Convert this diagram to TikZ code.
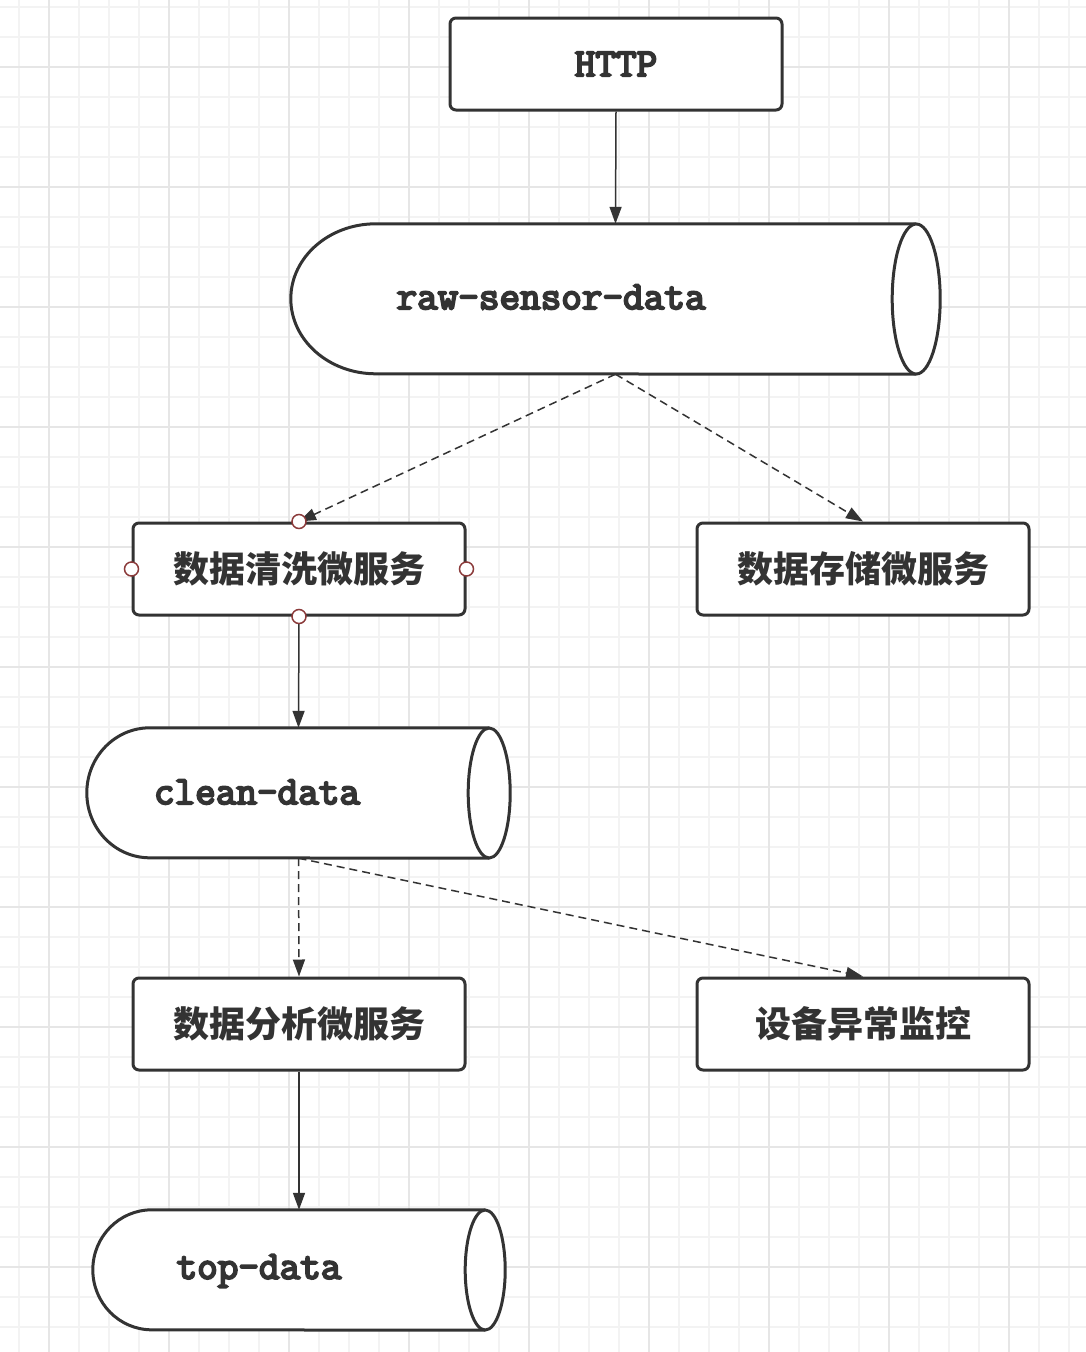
\documentclass[tikz,border=0pt]{standalone}
\usepackage{fontspec}
\newfontfamily\cjk{Noto Sans CJK SC}
\newfontfamily\codefont{Latin Modern Mono}[FakeBold=5]
\usetikzlibrary{arrows.meta}

\definecolor{ink}{HTML}{333333}
\definecolor{gridminor}{HTML}{F3F3F3}
\definecolor{gridmajor}{HTML}{E6E6E6}
\definecolor{portred}{HTML}{8B3A3A}

\tikzset{
  svc/.style={draw=ink, line width=3pt, rounded corners=6pt, fill=white,
    minimum width=332pt, minimum height=92pt, text=ink,
    font=\cjk\bfseries\fontsize{36}{40}\selectfont},
  gate/.style={svc, font=\codefont\fontsize{40}{44}\selectfont},
  tank/.style={inner sep=0pt},
  tanklabel/.style={text=ink, font=\codefont\fontsize{40}{44}\selectfont},
  flow/.style={draw=ink, line width=1.5pt, -{Triangle[length=17pt,width=12pt]}},
  maybe/.style={flow, dash pattern=on 8pt off 5pt},
  port/.style={circle, draw=portred, fill=white, line width=1.5pt,
    minimum size=14pt, inner sep=0pt},
}

% node name, left radius, ellipse half width, half height
\newcommand\tankpath[4]{%
  \draw[ink, line width=3pt, fill=white]
    ([xshift=-#3]#1.north east) -- ([xshift=#2]#1.north west)
    arc[start angle=90, end angle=270, x radius=#2, y radius=#4]
    -- ([xshift=-#3]#1.south east);
  \draw[ink, line width=3pt, fill=white]
    ([xshift=-#3]#1.east) ellipse[x radius=#3, y radius=#4];
}

\begin{document}
\begin{tikzpicture}[x=1pt, y=-1pt]
\useasboundingbox (0,0) rectangle (1086,1352);
\fill[white] (0,0) rectangle (1086,1352);

% grid
\foreach \x in {19,49,...,1079} \draw[gridminor, line width=1.5pt] (\x,0) -- (\x,1352);
\foreach \y in {7,37,...,1350} \draw[gridminor, line width=1.5pt] (0,\y) -- (1086,\y);
\foreach \x in {49,169,...,1079} \draw[gridmajor, line width=2pt] (\x,0) -- (\x,1352);
\foreach \y in {67,187,...,1350} \draw[gridmajor, line width=2pt] (0,\y) -- (1086,\y);

% topics
\node[tank, minimum width=649pt, minimum height=150pt] (raw) at (615.5,299) {};
\node[tank, minimum width=423pt, minimum height=130pt] (clean) at (298.5,793) {};
\node[tank, minimum width=412pt, minimum height=120pt] (top) at (299,1270) {};
\tankpath{raw}{85pt}{24pt}{75pt}
\tankpath{clean}{63pt}{21pt}{65pt}
\tankpath{top}{59pt}{20pt}{60pt}
\node[tanklabel] (raw-text) at (551,297) {raw-sensor-data};
\node[tanklabel] (clean-text) at (257,792) {clean-data};
\node[tanklabel] (top-text) at (259,1271) {top-data};

% services
\node[gate] (http) at (616,64) {HTTP};
\node[svc] (wash) at (299,569) {数据清洗微服务};
\node[svc] (store) at (863,569) {数据存储微服务};
\node[svc] (analyze) at (299,1024) {数据分析微服务};
\node[svc] (monitor) at (863,1024) {设备异常监控};

% flows
\draw[flow] (http.south) -- (raw.north);
\draw[maybe] (raw.south) -- (wash.north);
\draw[maybe] (raw.south) -- (store.north);
\draw[flow] (wash.south) -- (clean.north);
\draw[maybe] (clean.south) -- (analyze.north);
\draw[maybe] (clean.south) -- (monitor.north);
\draw[flow] (analyze.south) -- (top.north);

\foreach \a in {north,south,east,west}
  \node[port] (wash-\a) at (wash.\a) {};
\end{tikzpicture}
\end{document}
